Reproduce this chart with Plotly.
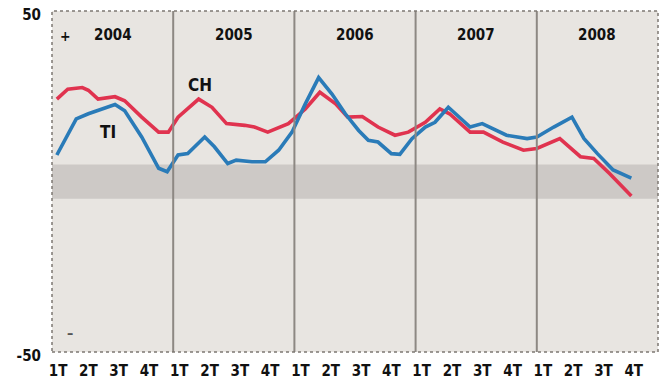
import plotly.graph_objects as go

# Quarterly climate indicators, 2004-2008 (balance of answers, %)
years = [2004, 2005, 2006, 2007, 2008]
quarter_labels = ["1T", "2T", "3T", "4T"]

ch_t = [2004.04, 2004.13, 2004.25, 2004.30, 2004.38, 2004.52, 2004.60, 2004.74,
        2004.88, 2004.96, 2005.04, 2005.21, 2005.32, 2005.44, 2005.59, 2005.67,
        2005.78, 2005.95, 2006.09, 2006.21, 2006.34, 2006.44, 2006.56, 2006.69,
        2006.83, 2006.94, 2007.08, 2007.20, 2007.28, 2007.45, 2007.56, 2007.72,
        2007.89, 2008.00, 2008.19, 2008.36, 2008.47, 2008.60, 2008.78]
ch_v = [24.2, 27.1, 27.6, 26.8, 24.2, 24.9, 23.7, 18.9,
        14.5, 14.5, 18.9, 24.2, 21.8, 17.0, 16.5, 16.0,
        14.5, 17.0, 21.3, 26.2, 22.8, 18.9, 19.1, 16.0,
        13.6, 14.5, 17.4, 21.3, 19.9, 14.5, 14.5, 11.6,
        9.2, 9.7, 12.6, 7.3, 6.8, 2.4, -4.2]

ti_t = [2004.04, 2004.20, 2004.30, 2004.41, 2004.52, 2004.60, 2004.74, 2004.88,
        2004.95, 2005.04, 2005.12, 2005.26, 2005.34, 2005.45, 2005.52, 2005.65,
        2005.76, 2005.87, 2005.98, 2006.09, 2006.20, 2006.31, 2006.42, 2006.53,
        2006.61, 2006.69, 2006.80, 2006.87, 2006.97, 2007.08, 2007.16, 2007.27,
        2007.45, 2007.55, 2007.64, 2007.75, 2007.92, 2008.00, 2008.14, 2008.29,
        2008.39, 2008.50, 2008.63, 2008.78]
ti_v = [7.8, 18.4, 19.9, 21.3, 22.6, 20.8, 13.1, 3.9,
        2.9, 7.8, 8.2, 13.1, 10.2, 5.3, 6.3, 5.8,
        5.8, 9.2, 14.5, 22.8, 30.5, 25.7, 19.9, 15.0,
        12.1, 11.6, 8.2, 8.0, 12.6, 16.0, 17.4, 21.8,
        16.0, 17.0, 15.5, 13.6, 12.6, 13.1, 16.0, 18.9,
        12.6, 8.2, 3.4, 1.0]

y_ticks = [-50, 50]
band = (-5, 5)

RED = "#e0334f"
BLUE = "#2a7bb8"
FONT = "DejaVu Sans Condensed, Liberation Sans Narrow, sans-serif"

fig = go.Figure()

fig.add_trace(go.Scatter(x=ch_t, y=ch_v, mode="lines", name="CH",
                         line=dict(color=RED, width=3.6)))
fig.add_trace(go.Scatter(x=ti_t, y=ti_v, mode="lines", name="TI",
                         line=dict(color=BLUE, width=3.6)))

shapes = [
    # neutral band around zero
    dict(type="rect", xref="x", yref="y", x0=years[0], x1=years[-1] + 1,
         y0=band[0], y1=band[1], fillcolor="#cdc9c6", line=dict(width=0),
         layer="below"),
]
# year separators
for yr in years[1:]:
    shapes.append(dict(type="line", xref="x", yref="paper", x0=yr, x1=yr,
                       y0=0, y1=1, line=dict(color="#8d8883", width=2)))
# frame
shapes.append(dict(type="rect", xref="paper", yref="paper", x0=0, x1=1, y0=0, y1=1,
                   line=dict(color="#7d7873", width=1.5, dash="dot")))

annotations = []
for yr in years:
    annotations.append(dict(x=yr + 0.5, y=43.0, xref="x", yref="y", text=str(yr),
                            showarrow=False,
                            font=dict(family=FONT, size=15, color="#111", weight="bold")))
annotations += [
    dict(x=2005.22, y=28.2, xref="x", yref="y", text="CH", showarrow=False,
         font=dict(family=FONT, size=17, color="#111", weight="bold")),
    dict(x=2004.46, y=14.5, xref="x", yref="y", text="TI", showarrow=False,
         font=dict(family=FONT, size=17, color="#111", weight="bold")),
    dict(x=2004.115, y=42.7, xref="x", yref="y", text="+", showarrow=False,
         font=dict(family=FONT, size=14, color="#111", weight="bold")),
    dict(x=2004.15, y=-44.5, xref="x", yref="y", text="\u2013", showarrow=False,
         font=dict(family=FONT, size=14, color="#555", weight="bold")),
]

tick_x = []
tick_text = []
for yr in years:
    for q, lab in enumerate(quarter_labels):
        tick_x.append(yr + 0.05 + 0.25 * q)
        tick_text.append(lab)

fig.update_layout(
    width=664, height=390,
    margin=dict(l=52, r=6, t=8, b=38),
    paper_bgcolor="white",
    plot_bgcolor="#e8e5e1",
    showlegend=False,
    shapes=shapes,
    annotations=annotations,
    xaxis=dict(range=[years[0], years[-1] + 1], tickvals=tick_x, ticktext=tick_text,
               showgrid=False, zeroline=False, ticks="", showline=False,
               ticklabelstandoff=8,
               tickfont=dict(family=FONT, size=15, color="#111", weight="bold")),
    yaxis=dict(range=[-50, 50.05], tickvals=y_ticks, ticktext=[str(v) for v in y_ticks],
               showgrid=False, zeroline=False, ticks="", showline=False,
               ticklabelstandoff=10, ticklabelshift=4, ticklabeloverflow="allow",
               tickfont=dict(family=FONT, size=15, color="#111", weight="bold")),
)

fig.write_html("out.html")
